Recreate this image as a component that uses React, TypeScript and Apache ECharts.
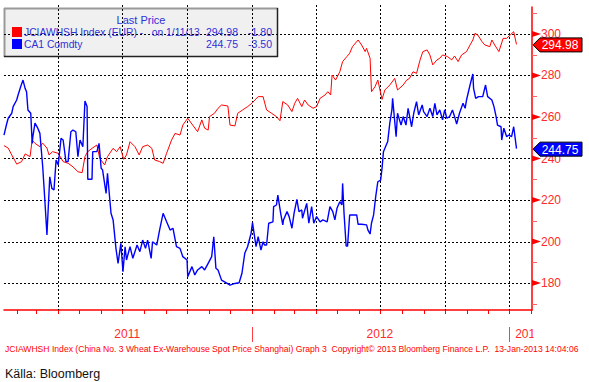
import React, { useEffect, useRef } from "react";
import * as echarts from "echarts";

// ---- data ----
const jciDates = [
  "2011-01-14","2011-01-20","2011-01-25","2011-01-29","2011-02-01","2011-02-08","2011-02-13","2011-02-20","2011-02-23","2011-02-27",
  "2011-03-06","2011-03-10","2011-03-16","2011-03-19","2011-03-24","2011-04-01","2011-04-08","2011-04-15","2011-04-22","2011-04-29",
  "2011-05-05","2011-05-09","2011-05-13","2011-05-19","2011-05-26","2011-05-30","2011-06-06","2011-06-10","2011-06-18","2011-06-23",
  "2011-06-28","2011-07-03","2011-07-07","2011-07-12","2011-07-19","2011-07-25","2011-07-30","2011-08-06","2011-08-12","2011-08-16",
  "2011-08-23","2011-08-28","2011-09-02","2011-09-09","2011-09-14","2011-09-21","2011-09-25","2011-10-02","2011-10-09","2011-10-16",
  "2011-10-22","2011-10-26","2011-10-31","2011-11-02","2011-11-09","2011-11-14","2011-11-19","2011-11-28","2011-12-01","2011-12-08",
  "2011-12-12","2011-12-19","2011-12-26","2012-01-01","2012-01-10","2012-01-17","2012-01-22","2012-01-29","2012-02-05","2012-02-10",
  "2012-02-14","2012-02-21","2012-02-27","2012-03-02","2012-03-06","2012-03-12","2012-03-16","2012-03-21","2012-03-28","2012-04-02",
  "2012-04-07","2012-04-14","2012-04-18","2012-04-22","2012-04-24","2012-04-29","2012-05-05","2012-05-09","2012-05-15","2012-05-19",
  "2012-05-23","2012-05-31","2012-06-05","2012-06-10","2012-06-12","2012-06-17","2012-06-19","2012-06-24","2012-06-28","2012-07-04",
  "2012-07-08","2012-07-15","2012-07-22","2012-07-26","2012-08-03","2012-08-08","2012-08-12","2012-08-17","2012-08-22","2012-08-27",
  "2012-08-31","2012-09-06","2012-09-10","2012-09-14","2012-09-20","2012-09-24","2012-09-28","2012-10-05","2012-10-11","2012-10-15",
  "2012-10-20","2012-10-25","2012-11-01","2012-11-06","2012-11-10","2012-11-13","2012-11-17","2012-11-23","2012-11-27","2012-12-04",
  "2012-12-07","2012-12-11","2012-12-17","2012-12-23","2012-12-28","2013-01-02","2013-01-07","2013-01-11"
];
const jciValues = [
  246.2,245.0,241.7,239.3,237.3,238.5,242.2,240.9,248.9,247.3,
  245.7,247.4,245.0,241.7,243.3,242.5,238.5,237.7,236.0,233.6,
  233.2,240.9,243.3,244.9,246.5,240.0,236.9,240.9,244.9,243.3,
  245.7,239.6,241.7,248.1,245.7,241.7,245.7,246.5,244.9,239.3,
  238.5,237.7,242.5,248.9,252.1,251.3,256.1,259.4,256.1,252.9,
  258.6,254.6,253.7,260.2,261.8,264.2,265.8,265.3,256.1,255.7,
  261.8,263.4,265.0,266.6,269.8,269.8,263.4,261.8,260.2,258.2,
  267.4,265.8,262.6,266.6,269.0,265.0,268.2,265.8,264.2,265.0,
  269.0,270.6,272.2,270.6,280.2,277.8,281.8,286.7,289.1,290.7,
  293.9,297.1,294.7,291.5,293.1,288.3,272.2,274.6,277.8,268.5,
  273.0,275.4,278.6,273.0,275.4,277.8,278.6,281.8,281.0,287.5,
  291.5,292.3,289.9,285.1,287.5,288.3,289.9,289.1,287.5,289.4,
  286.7,289.9,291.5,294.7,297.1,300.3,299.5,296.3,294.7,293.9,
  297.1,294.7,291.5,297.9,297.9,299.5,301.1,294.98
];
const ca1Dates = [
  "2011-01-14","2011-01-18","2011-01-20","2011-01-25","2011-01-27","2011-02-01","2011-02-03","2011-02-07","2011-02-10","2011-02-13",
  "2011-02-15","2011-02-17","2011-02-21","2011-02-23","2011-02-24","2011-02-27","2011-03-03","2011-03-06","2011-03-10","2011-03-13",
  "2011-03-16","2011-03-20","2011-03-23","2011-03-26","2011-03-29","2011-04-01","2011-04-05","2011-04-08","2011-04-12","2011-04-15",
  "2011-04-19","2011-04-22","2011-04-26","2011-04-29","2011-05-02","2011-05-06","2011-05-09","2011-05-12","2011-05-13","2011-05-19",
  "2011-05-20","2011-05-26","2011-05-29","2011-06-01","2011-06-03","2011-06-08","2011-06-10","2011-06-15","2011-06-18","2011-06-22",
  "2011-06-25","2011-06-29","2011-07-02","2011-07-05","2011-07-07","2011-07-12","2011-07-16","2011-07-22","2011-07-26","2011-07-30",
  "2011-08-03","2011-08-06","2011-08-11","2011-08-13","2011-08-19","2011-08-23","2011-08-28","2011-09-02","2011-09-07","2011-09-11",
  "2011-09-16","2011-09-21","2011-09-25","2011-10-01","2011-10-02","2011-10-08","2011-10-12","2011-10-16","2011-10-22","2011-10-26",
  "2011-10-31","2011-11-05","2011-11-08","2011-11-11","2011-11-14","2011-11-19","2011-11-27","2011-12-01","2011-12-08","2011-12-14",
  "2011-12-18","2011-12-22","2011-12-26","2011-12-31","2012-01-02","2012-01-07","2012-01-10","2012-01-14","2012-01-17","2012-01-19",
  "2012-01-22","2012-01-25","2012-01-31","2012-02-01","2012-02-05","2012-02-07","2012-02-11","2012-02-14","2012-02-15","2012-02-20",
  "2012-02-23","2012-02-27","2012-03-01","2012-03-05","2012-03-08","2012-03-12","2012-03-13","2012-03-19","2012-03-22","2012-03-26",
  "2012-03-29","2012-04-02","2012-04-07","2012-04-11","2012-04-17","2012-04-21","2012-04-25","2012-04-28","2012-05-01","2012-05-05",
  "2012-05-08","2012-05-09","2012-05-11","2012-05-14","2012-05-16","2012-05-19","2012-05-29","2012-05-31","2012-06-05","2012-06-12",
  "2012-06-14","2012-06-17","2012-06-19","2012-06-22","2012-06-25","2012-06-28","2012-07-02","2012-07-04","2012-07-06","2012-07-11",
  "2012-07-12","2012-07-15","2012-07-18","2012-07-19","2012-07-24","2012-07-26","2012-07-31","2012-08-03","2012-08-07","2012-08-10",
  "2012-08-15","2012-08-18","2012-08-22","2012-08-25","2012-08-30","2012-09-01","2012-09-06","2012-09-10","2012-09-14","2012-09-17",
  "2012-09-20","2012-09-24","2012-09-28","2012-10-01","2012-10-04","2012-10-08","2012-10-12","2012-10-15","2012-10-18","2012-10-22",
  "2012-10-27","2012-10-30","2012-11-01","2012-11-06","2012-11-10","2012-11-11","2012-11-14","2012-11-18","2012-11-24","2012-11-28",
  "2012-12-01","2012-12-07","2012-12-10","2012-12-13","2012-12-15","2012-12-20","2012-12-21","2012-12-24","2012-12-28","2012-12-31",
  "2013-01-04","2013-01-07","2013-01-11"
];
const ca1Values = [
  251.3,257.0,259.4,261.8,265.0,268.2,270.6,274.9,277.8,273.8,
  272.2,263.4,261.8,247.3,250.5,257.0,254.6,252.1,236.0,220.0,
  203.1,231.2,225.6,224.8,239.3,236.9,249.7,248.9,238.5,238.5,
  252.9,253.7,252.9,240.9,248.9,245.7,267.7,265.0,230.0,230.0,
  243.3,243.3,247.3,235.3,234.5,223.2,232.9,213.6,210.4,196.7,
  189.5,199.1,185.5,197.5,191.1,197.5,191.9,198.3,195.1,200.7,
  196.7,200.7,191.9,199.9,198.3,205.5,213.6,209.5,205.5,206.4,
  197.5,196.7,192.7,191.1,183.0,187.9,183.9,186.3,187.9,186.3,
  189.5,192.7,202.3,187.1,186.3,181.4,179.8,179.0,179.8,180.1,
  184.7,194.3,197.5,204.0,209.1,197.5,202.3,195.9,199.9,198.3,
  198.3,208.8,209.5,216.8,217.6,222.4,213.6,208.0,210.4,214.4,
  212.0,206.4,213.6,220.3,214.4,215.2,211.2,218.4,208.8,216.8,
  208.8,212.0,209.5,210.4,209.5,216.8,214.4,210.4,216.0,219.2,
  217.6,228.0,213.6,197.8,197.8,212.8,212.8,208.3,208.3,208.0,
  205.5,203.6,208.8,212.8,221.6,228.8,229.6,235.3,243.3,247.3,
  248.1,257.0,263.4,269.0,250.5,261.8,256.1,260.2,256.1,264.2,
  255.3,261.8,267.4,261.0,265.8,262.6,260.2,264.2,260.2,266.6,
  261.0,263.4,258.6,263.4,259.4,260.2,263.4,260.2,256.6,261.8,
  266.6,264.2,268.2,275.4,280.7,273.8,269.0,269.8,269.8,275.4,
  269.8,268.2,265.0,260.2,256.1,255.3,248.9,254.6,250.5,251.3,
  250.5,255.3,244.75
];
const jciChange = "-1.80";
const ca1Change = "-3.50";
const jciName = "JCIAWHSH Index (EUR) -   on 1/11/13";
const ca1Name = "CA1 Comdty";
const legendTitle = "Last Price";
const yMajorTicks = [180, 200, 220, 240, 260, 280, 300];
const yMinorTicks = [170, 190, 210, 230, 250, 270, 290, 310];
const yMin = 167;
const yMax = 313;
const xMinDate = "2011-01-14";
const xMaxDate = "2013-02-02";
const quarterStarts = ["2011-04-01","2011-07-01","2011-10-01","2012-01-01","2012-04-01","2012-07-01","2012-10-01","2013-01-01"];
const monthStarts = [
  "2011-02-01","2011-03-01","2011-04-01","2011-05-01","2011-06-01","2011-07-01","2011-08-01","2011-09-01","2011-10-01","2011-11-01","2011-12-01",
  "2012-01-01","2012-02-01","2012-03-01","2012-04-01","2012-05-01","2012-06-01","2012-07-01","2012-08-01","2012-09-01","2012-10-01","2012-11-01","2012-12-01",
  "2013-01-01","2013-02-01"
];
const yearStarts = ["2012-01-01", "2013-01-01"];
const yearLabels = ["2011", "2012", "2013"];
const yearLabelDates = ["2011-07-08", "2012-07-01", "2013-01-28"];
const footerText = "JCIAWHSH Index (China No. 3 Wheat Ex-Warehouse Spot Price Shanghai) Graph 3  Copyright\u00A9 2013 Bloomberg Finance L.P.  13-Jan-2013 14:04:06";
const sourceText = "K\u00E4lla: Bloomberg";

const RED = "#ff0000";
const BLUE = "#0000ff";
const LEG = "#3030d8";
const FONT = '"Liberation Sans", Arial, sans-serif';

const ts = (s: string) => {
  const [y, m, d] = s.split("-").map(Number);
  return new Date(y, m - 1, d).getTime();
};

const txt = (x: number, y: number, text: string, fill: string, size: number, align: string) => ({
  type: "text",
  z: 10,
  x,
  y,
  style: { text, fill, font: `${size}px ${FONT}`, align, verticalAlign: "middle", textAlign: align, textVerticalAlign: "middle" },
});

export default function App() {
  const ref = useRef<HTMLDivElement>(null);
  useEffect(() => {
    if (!ref.current) return;
    const chart = echarts.init(ref.current, undefined, { renderer: "svg" });
    const xMin = ts(xMinDate);
    const xMax = ts(xMaxDate);
    const jciData = jciDates.map((d, i) => [ts(d), jciValues[i]]);
    const ca1Data = ca1Dates.map((d, i) => [ts(d), ca1Values[i]]);
    const jciLast = jciValues[jciValues.length - 1];
    const ca1Last = ca1Values[ca1Values.length - 1];

    const option: any = {
      animation: false,
      backgroundColor: "#ffffff",
      grid: { left: 4, right: 57, top: 7, bottom: 72 },
      xAxis: {
        type: "time",
        min: xMin,
        max: xMax,
        axisLine: { show: true, lineStyle: { color: RED, width: 1.5 } },
        axisTick: { show: false },
        axisLabel: { show: false },
        splitLine: { show: false },
      },
      yAxis: {
        type: "value",
        position: "right",
        min: yMin,
        max: yMax,
        axisLine: { show: true, onZero: false, lineStyle: { color: RED, width: 1.5 } },
        axisTick: { show: false },
        axisLabel: { show: false },
        splitLine: { show: false },
      },
      graphic: [
        { type: "rect", z: 0, shape: { x: 4, y: 8, width: 274, height: 49 }, style: { fill: "#f0f0f0" } },
        { type: "line", z: 0, shape: { x1: 4, y1: 8.5, x2: 278, y2: 8.5 }, style: { stroke: "#9a9a9a", lineWidth: 2 } },
        { type: "line", z: 0, shape: { x1: 4.5, y1: 8, x2: 4.5, y2: 57 }, style: { stroke: "#9a9a9a", lineWidth: 2 } },
        { type: "line", z: 0, shape: { x1: 4, y1: 56.5, x2: 278, y2: 56.5 }, style: { stroke: "#222", lineWidth: 1.5 } },
        { type: "line", z: 0, shape: { x1: 277.5, y1: 8, x2: 277.5, y2: 57 }, style: { stroke: "#222", lineWidth: 1.5 } },
        txt(141, 20, legendTitle, LEG, 11, "center"),
        { type: "rect", z: 10, shape: { x: 12, y: 27, width: 10, height: 10 }, style: { fill: RED } },
        { type: "rect", z: 10, shape: { x: 12, y: 39, width: 10, height: 10 }, style: { fill: BLUE } },
        txt(24, 32, jciName, LEG, 10.3, "left"),
        txt(238, 32, jciLast.toFixed(2), LEG, 10.5, "right"),
        txt(272, 32, jciChange, LEG, 10.5, "right"),
        txt(24, 44, ca1Name, LEG, 10.3, "left"),
        txt(238, 44, ca1Last.toFixed(2), LEG, 10.5, "right"),
        txt(272, 44, ca1Change, LEG, 10.5, "right"),
        txt(5, 349, footerText, RED, 8.6, "left"),
        txt(5, 374, sourceText, "#111111", 12.5, "left"),
      ],
      series: [
        // vertical dotted grid at quarter starts
        {
          type: "custom",
          coordinateSystem: "cartesian2d",
          silent: true,
          clip: false,
          z: 1,
          data: quarterStarts.map((d) => [ts(d), 240]),
          renderItem: (params: any, api: any) => {
            const cs = params.coordSys;
            const x = Math.round(api.coord([api.value(0), 240])[0]) + 0.5;
            return {
              type: "line",
              shape: { x1: x, y1: cs.y - 2, x2: x, y2: cs.y + cs.height },
              style: { stroke: "#000", lineWidth: 1, lineDash: [2, 2] },
            };
          },
        },
        // horizontal dotted grid at major ticks
        {
          type: "custom",
          coordinateSystem: "cartesian2d",
          silent: true,
          clip: false,
          z: 1,
          data: yMajorTicks.map((v) => [xMin, v]),
          renderItem: (params: any, api: any) => {
            const cs = params.coordSys;
            const y = Math.round(api.coord([api.value(0), api.value(1)])[1]) + 0.5;
            return {
              type: "line",
              shape: { x1: cs.x, y1: y, x2: cs.x + cs.width, y2: y },
              style: { stroke: "#000", lineWidth: 1, lineDash: [2, 2] },
            };
          },
        },
        {
          type: "line",
          name: "JCIAWHSH",
          data: jciData,
          showSymbol: false,
          symbol: "none",
          z: 3,
          lineStyle: { color: RED, width: 1 },
          itemStyle: { color: RED },
        },
        {
          type: "line",
          name: "CA1",
          data: ca1Data,
          showSymbol: false,
          symbol: "none",
          z: 4,
          lineStyle: { color: BLUE, width: 1.4 },
          itemStyle: { color: BLUE },
        },
        // right axis major markers + labels
        {
          type: "custom",
          coordinateSystem: "cartesian2d",
          silent: true,
          clip: false,
          z: 5,
          data: yMajorTicks.map((v) => [xMax, v]),
          renderItem: (params: any, api: any) => {
            const cs = params.coordSys;
            const y = api.coord([api.value(0), api.value(1)])[1];
            const x0 = cs.x + cs.width;
            return {
              type: "group",
              children: [
                { type: "polygon", shape: { points: [[x0, y - 3], [x0 + 9, y], [x0, y + 3]] }, style: { fill: RED } },
                { type: "text", x: x0 + 9, y: y, style: { text: String(api.value(1)), fill: "#ff2a2a", font: `12px ${FONT}`, align: "left", verticalAlign: "middle" } },
              ],
            };
          },
        },
        // right axis minor ticks
        {
          type: "custom",
          coordinateSystem: "cartesian2d",
          silent: true,
          clip: false,
          z: 5,
          data: yMinorTicks.map((v) => [xMax, v]),
          renderItem: (params: any, api: any) => {
            const cs = params.coordSys;
            const y = Math.round(api.coord([api.value(0), api.value(1)])[1]) + 0.5;
            const x0 = cs.x + cs.width;
            return { type: "line", shape: { x1: x0, y1: y, x2: x0 + 5, y2: y }, style: { stroke: "#ff6060", lineWidth: 1 } };
          },
        },
        // bottom month ticks
        {
          type: "custom",
          coordinateSystem: "cartesian2d",
          silent: true,
          clip: false,
          z: 5,
          data: monthStarts.map((d) => [ts(d), yMin]),
          renderItem: (params: any, api: any) => {
            const cs = params.coordSys;
            const x = Math.round(api.coord([api.value(0), yMin])[0]) + 0.5;
            const y0 = cs.y + cs.height;
            return { type: "line", shape: { x1: x, y1: y0, x2: x, y2: y0 + 4 }, style: { stroke: RED, lineWidth: 1 } };
          },
        },
        // year dividers
        {
          type: "custom",
          coordinateSystem: "cartesian2d",
          silent: true,
          clip: false,
          z: 5,
          data: yearStarts.map((d) => [ts(d), yMin]),
          renderItem: (params: any, api: any) => {
            const cs = params.coordSys;
            const x = Math.round(api.coord([api.value(0), yMin])[0]) + 0.5;
            const y0 = cs.y + cs.height;
            return { type: "line", shape: { x1: x, y1: y0 + 17, x2: x, y2: y0 + 32 }, style: { stroke: "#ff4040", lineWidth: 1 } };
          },
        },
        // year labels
        {
          type: "custom",
          coordinateSystem: "cartesian2d",
          silent: true,
          clip: false,
          z: 5,
          data: yearLabelDates.map((d) => [ts(d), yMin]),
          renderItem: (params: any, api: any) => {
            const cs = params.coordSys;
            const x = api.coord([api.value(0), yMin])[0];
            const y0 = cs.y + cs.height;
            const right = cs.x + cs.width;
            return {
              type: "group",
              children: [
                { type: "text", x: x, y: y0 + 24, style: { text: yearLabels[params.dataIndex], fill: "#ff2a2a", font: `12px ${FONT}`, align: "center", verticalAlign: "middle" } },
                { type: "rect", shape: { x: right + 1.5, y: y0 + 14, width: 60, height: 20 }, style: { fill: "#ffffff" } },
              ],
            };
          },
        },
        // last value tags
        {
          type: "custom",
          coordinateSystem: "cartesian2d",
          silent: true,
          clip: false,
          z: 6,
          data: [[xMax, jciLast, 0], [xMax, ca1Last, 1]],
          renderItem: (params: any, api: any) => {
            const cs = params.coordSys;
            const v = api.value(1);
            const y = api.coord([api.value(0), v])[1] + 0.5;
            const x0 = cs.x + cs.width + 1;
            const fill = api.value(2) === 0 ? RED : BLUE;
            return {
              type: "group",
              children: [
                {
                  type: "polygon",
                  shape: { points: [[x0, y], [x0 + 7, y - 7], [x0 + 49, y - 7], [x0 + 49, y + 7], [x0 + 7, y + 7]] },
                  style: { fill, stroke: "#000", lineWidth: 1 },
                },
                { type: "text", x: x0 + 27, y: y + 0.5, style: { text: Number(v).toFixed(2), fill: "#ffffff", font: `12px ${FONT}`, align: "center", verticalAlign: "middle" } },
              ],
            };
          },
        },
      ],
    };
    chart.setOption(option);
    return () => chart.dispose();
  }, []);
  return (
    <div
      ref={ref}
      style={{ position: "fixed", left: 0, top: 0, width: 589, height: 382, background: "#fff" }}
    />
  );
}
